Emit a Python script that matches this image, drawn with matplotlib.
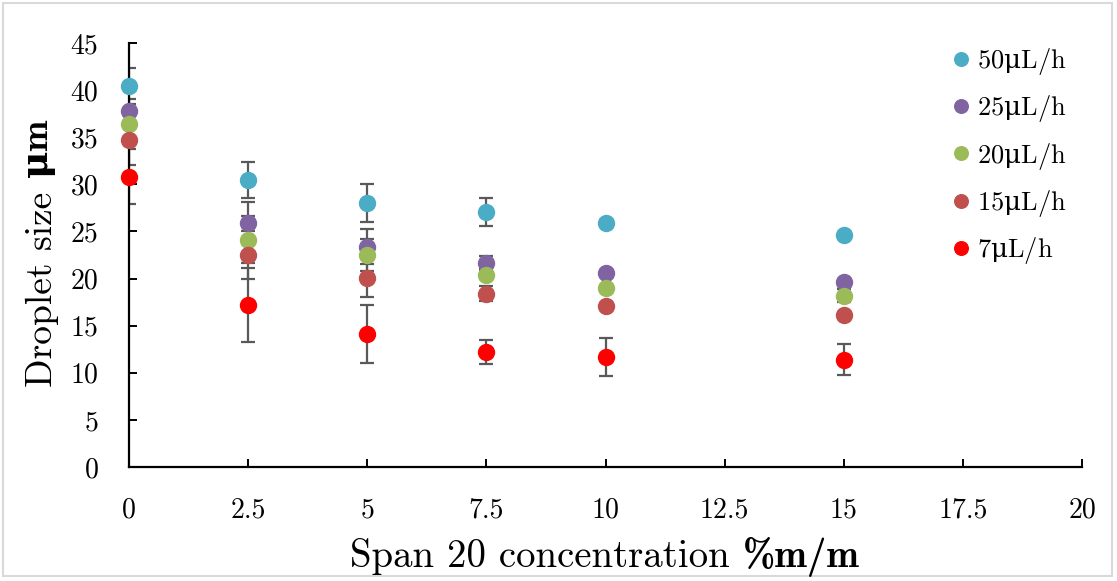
import matplotlib
matplotlib.use("Agg")
import matplotlib.pyplot as plt
from matplotlib.patches import Rectangle

# Span 20 concentration (% m/m)
conc = [0, 2.5, 5, 7.5, 10, 15]

labels = [r"50$\mathrm{\mu}$L/h", r"25$\mathrm{\mu}$L/h", r"20$\mathrm{\mu}$L/h",
          r"15$\mathrm{\mu}$L/h", r"7$\mathrm{\mu}$L/h"]
colors = ["#4BACC6", "#8064A2", "#9BBB59", "#C0504D", "#FF0000"]

size_50 = [40.4, 30.5, 28.0, 27.1, 25.9, 24.6]
size_25 = [37.8, 25.9, 23.4, 21.7, 20.6, 19.6]
size_20 = [36.4, 24.1, 22.5, 20.4, 19.0, 18.2]
size_15 = [34.7, 22.5, 20.1, 18.4, 17.1, 16.1]
size_7 = [30.8, 17.2, 14.1, 12.2, 11.7, 11.4]

err_50 = [1.9, 1.9, 2.0, 1.5, 0.3, 0.3]
err_25 = [1.3, 2.2, 1.9, 0.7, 0.3, 0.3]
err_20 = [0.4, 2.5, 1.7, 0.4, 0.3, 0.7]
err_15 = [2.6, 2.6, 2.1, 0.8, 0.3, 0.3]
err_7 = [2.9, 3.9, 3.1, 1.3, 2.0, 1.65]

series = [size_50, size_25, size_20, size_15, size_7]
errors = [err_50, err_25, err_20, err_15, err_7]

W, H = 1117, 581
plt.rcParams["font.family"] = ["cmr10", "DejaVu Serif"]
plt.rcParams["axes.unicode_minus"] = False
plt.rcParams["mathtext.fontset"] = "custom"
plt.rcParams["mathtext.rm"] = "DejaVu Serif"
plt.rcParams["mathtext.bf"] = "DejaVu Serif:bold"

fig = plt.figure(figsize=(W / 100, H / 100), dpi=100)
fig.patches.append(Rectangle((3 / W, 5 / H), 1 - 8 / W, 1 - 8 / H,
                             transform=fig.transFigure, fill=False,
                             edgecolor="#D9D9D9", linewidth=1.5))
ax = fig.add_axes([129 / W, 1 - 467 / H, (1082 - 129) / W, (467 - 43) / H])

for vals, errs, col, lab in zip(series, errors, colors, labels):
    ax.errorbar(conc, vals, yerr=errs, fmt="none", ecolor="#595959",
                elinewidth=1.6, capsize=5, capthick=1.6, zorder=2)
    ax.plot(conc, vals, "o", color=col, markersize=11.5, label=lab, zorder=3,
            clip_on=False)

ax.set_xlim(0, 20)
ax.set_ylim(0, 45)
ax.set_xticks([0, 2.5, 5, 7.5, 10, 12.5, 15, 17.5, 20])
ax.set_xticklabels(["0", "2.5", "5", "7.5", "10", "12.5", "15", "17.5", "20"])
ax.set_yticks(range(0, 50, 5))
ax.tick_params(direction="in", length=6, width=1.4, labelsize=20,
               color="black")
ax.tick_params(axis="y", pad=22)
ax.tick_params(axis="x", pad=22)
for s in ("top", "right"):
    ax.spines[s].set_visible(False)
for s in ("left", "bottom"):
    ax.spines[s].set_linewidth(1.6)

leg = ax.legend(loc="upper right", bbox_to_anchor=(0.995, 1.018), frameon=False,
                fontsize=19, handletextpad=0.12, labelspacing=0.62,
                handlelength=1.0, markerscale=0.85, borderaxespad=0.0)

# axis titles: regular part + bold part
fig.canvas.draw()
r = fig.canvas.get_renderer()
xa = fig.text(0, 0, "Span 20 concentration ", fontsize=28, va="baseline",
              ha="left")
xb = fig.text(0, 0, "%m/m", fontsize=28, va="baseline", ha="left",
              family=["cmb10", "DejaVu Serif"])
wa = xa.get_window_extent(r).width
wb = xb.get_window_extent(r).width
x0 = (605 - (wa + wb) / 2) / W
xa.set_position((x0, 1 - 567 / H))
xb.set_position((x0 + wa / W, 1 - 567 / H))

ya = fig.text(0, 0, "Droplet size ", fontsize=27, rotation=90,
              va="bottom", ha="center")
yb = fig.text(0, 0, r"$\mathbf{\mu}$m", fontsize=27, rotation=90,
              va="bottom", ha="center", family=["cmb10", "DejaVu Serif"])
ha_ = ya.get_window_extent(r).height
hb_ = yb.get_window_extent(r).height
ybot = 1 - (253 + (ha_ + hb_) / 2) / H
ya.set_position((42 / W, ybot))
yb.set_position((42 / W, ybot + ha_ / H))

fig.savefig("out.png", dpi=100)
